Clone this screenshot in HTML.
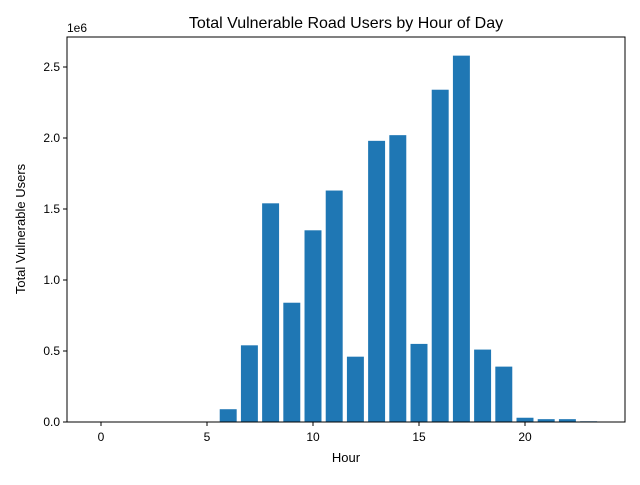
<!DOCTYPE html>
<html><head><meta charset="utf-8"><style>
body{margin:0;background:#fff;}
svg{font-family:"Liberation Sans","DejaVu Sans",sans-serif;}
</style></head><body>
<svg id="chart" width="640" height="480">
<rect width="640" height="480" fill="#fff"/>
<g id="bars"></g>
<rect x="67" y="37" width="558" height="385" fill="none" stroke="#000" stroke-width="1"/>
<g id="xt"></g>
<g id="yt"></g>
<text x="67" y="32" font-size="12">1e6</text>
<text x="346" y="28" font-size="16" text-anchor="middle">Total Vulnerable Road Users by Hour of Day</text>
<text x="346" y="462" font-size="13" text-anchor="middle">Hour</text>
<text transform="translate(25,229) rotate(-90)" font-size="13" text-anchor="middle">Total Vulnerable Users</text>
</svg>
<script>
const hours=[0,1,2,3,4,5,6,7,8,9,10,11,12,13,14,15,16,17,18,19,20,21,22,23];
const values=[0,0,0,0,0,0,0.09e6,0.54e6,1.54e6,0.84e6,1.35e6,1.63e6,0.46e6,1.98e6,2.02e6,0.55e6,2.34e6,2.58e6,0.51e6,0.39e6,0.03e6,0.02e6,0.02e6,0.005e6];
const xTicks=[0,5,10,15,20];
const yTicks=[0,0.5,1.0,1.5,2.0,2.5];
const yTickLabels=["0.0","0.5","1.0","1.5","2.0","2.5"];
const NS="http://www.w3.org/2000/svg";
const x=h=>101+(h)*21.2;
const y=v=>422-v/1e6*142;
const bars=document.getElementById('bars');
hours.forEach((h,i)=>{
 const r=document.createElementNS(NS,'rect');
 r.setAttribute('x',x(h-0.4));r.setAttribute('width',21.2*0.8);
 r.setAttribute('y',y(values[i]));r.setAttribute('height',422-y(values[i]));
 r.setAttribute('fill','#1f77b4');
 
 
 bars.appendChild(r);
});
const xt=document.getElementById('xt');
xTicks.forEach(t=>{
 const l=document.createElementNS(NS,'line');
 l.setAttribute('x1',x(t));l.setAttribute('x2',x(t));l.setAttribute('y1',422);l.setAttribute('y2',426);l.setAttribute('stroke','#000');
 
 
 xt.appendChild(l);
 const tx=document.createElementNS(NS,'text');
 tx.setAttribute('x',x(t));tx.setAttribute('y',441);tx.setAttribute('font-size','12');tx.setAttribute('text-anchor','middle');
 tx.textContent=t;
 
 
 xt.appendChild(tx);
});
const yt=document.getElementById('yt');
yTicks.forEach((t,i)=>{
 const yy=y(t*1e6);
 const l=document.createElementNS(NS,'line');
 l.setAttribute('x1',63);l.setAttribute('x2',67);l.setAttribute('y1',yy);l.setAttribute('y2',yy);l.setAttribute('stroke','#000');
 
 
 yt.appendChild(l);
 const tx=document.createElementNS(NS,'text');
 tx.setAttribute('x',60);tx.setAttribute('y',yy+4);tx.setAttribute('font-size','12');tx.setAttribute('text-anchor','end');
 tx.textContent=yTickLabels[i];
 
 
 yt.appendChild(tx);
});
</script>
</body></html>
